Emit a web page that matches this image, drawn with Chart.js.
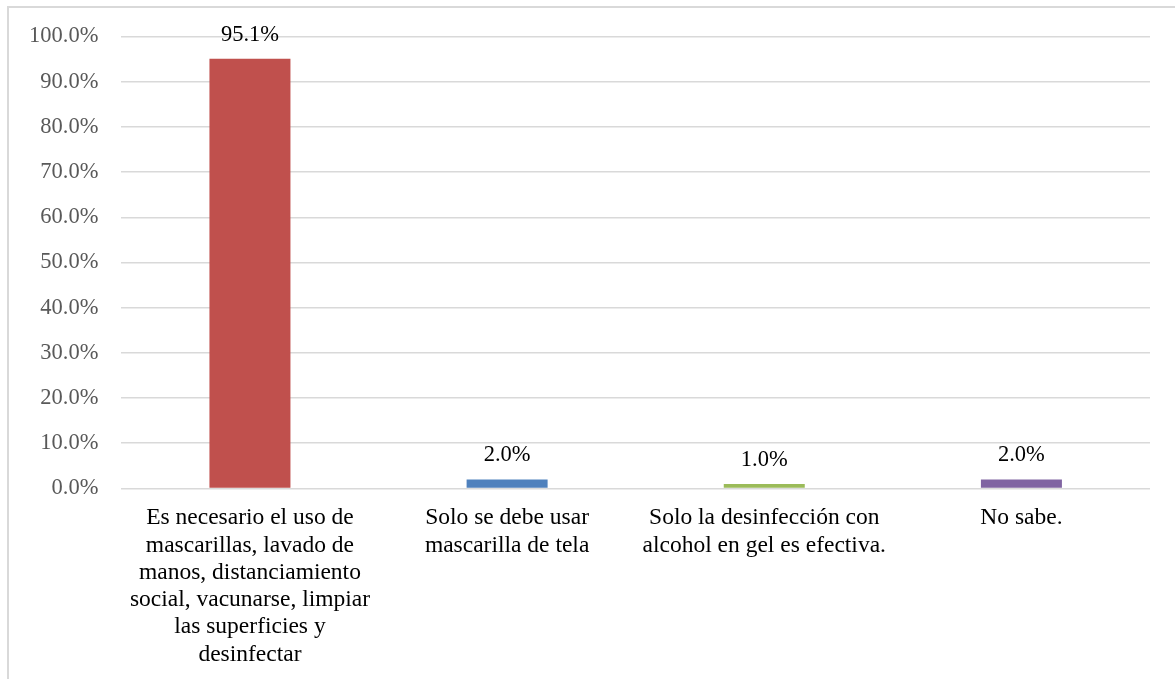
<!DOCTYPE html>
<html>
<head>
<meta charset="utf-8">
<script src="https://cdn.jsdelivr.net/npm/chart.js@4"></script>
<style>
  html, body { margin: 0; padding: 0; background: #fff; overflow: hidden; }
  #frame { position: absolute; left: 7px; top: 6px; width: 1400px; height: 900px; border: 2px solid #d9d9d9; }
  #wrap { position: absolute; left: 0; top: 0; width: 1175px; height: 679px; }
</style>
</head>
<body>
<div id="frame"></div>
<div id="wrap"><canvas id="myChart"></canvas></div>
<script>
// chart data
var categories = [
  ['Es necesario el uso de', 'mascarillas, lavado de', 'manos, distanciamiento', 'social, vacunarse, limpiar', 'las superficies y', 'desinfectar'],
  ['Solo se debe usar', 'mascarilla de tela'],
  ['Solo la desinfección con', 'alcohol en gel es efectiva.'],
  ['No sabe.']
];
var values = [95.1, 2.0, 1.0, 2.0];
var barColors = ['#C0504D', '#4F81BD', '#9BBB59', '#8064A2'];
var yTicks = [0, 10, 20, 30, 40, 50, 60, 70, 80, 90, 100];

var serif = "'Liberation Serif', 'Times New Roman', serif";

// draws the % labels above each bar
var valueLabels = {
  id: 'valueLabels',
  afterDatasetsDraw: function (chart) {
    var ctx = chart.ctx;
    var meta = chart.getDatasetMeta(0);
    ctx.save();
    ctx.font = '22.5px ' + serif;
    ctx.fillStyle = '#000';
    ctx.textAlign = 'center';
    ctx.textBaseline = 'middle';
    meta.data.forEach(function (bar, i) {
      ctx.fillText(values[i].toFixed(1) + '%', bar.x, bar.y - 24);
    });
    ctx.restore();
  }
};

var ctx = document.getElementById('myChart');

new Chart(ctx, {
  type: 'bar',
  data: {
    labels: categories,
    datasets: [{
      data: values,
      backgroundColor: barColors,
      borderWidth: 0,
      categoryPercentage: 1,
      barPercentage: 0.315
    }]
  },
  options: {
    responsive: true,
    maintainAspectRatio: false,
    animation: false,
    layout: {
      padding: { left: 6, right: 25, top: 36, bottom: 3 }
    },
    plugins: {
      legend: { display: false },
      tooltip: { enabled: false }
    },
    scales: {
      x: {
        grid: { display: false },
        border: { display: false },
        ticks: {
          color: '#000',
          font: { family: serif, size: 23.5, lineHeight: 1.16 },
          padding: 8,
          maxRotation: 0,
          autoSkip: false
        }
      },
      y: {
        min: 0,
        max: 100,
        afterBuildTicks: function (axis) {
          axis.ticks = yTicks.map(function (v) { return { value: v }; });
        },
        grid: { color: '#d9d9d9', lineWidth: 1.5, drawTicks: false },
        border: { display: false },
        ticks: {
          color: '#595959',
          font: { family: serif, size: 22.5 },
          padding: 23,
          callback: function (v) { return v.toFixed(1) + '%'; }
        }
      }
    }
  },
  plugins: [valueLabels]
});
</script>
</body>
</html>
